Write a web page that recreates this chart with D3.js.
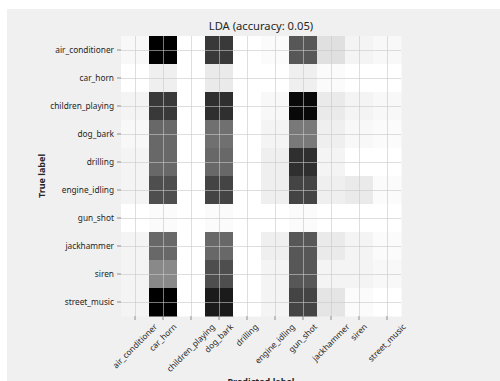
<!DOCTYPE html>
<html>
<head>
<meta charset="utf-8">
<script src="https://cdn.jsdelivr.net/npm/d3@7"></script>
<style>
  body { margin: 0; background: #fff; }
  svg { display: block; }
  .tick text { font-family: "Noto Sans", "Open Sans", sans-serif; fill: #262626; }
</style>
</head>
<body>
<div id="chart"></div>
<script>
// class names (rows = true, columns = predicted)
var labels = ["air_conditioner", "car_horn", "children_playing", "dog_bark", "drilling",
  "engine_idling", "gun_shot", "jackhammer", "siren", "street_music"];

// confusion matrix counts
var counts = [
  [2, 33, 0, 27, 0, 1, 24, 7, 3, 2],
  [0, 4, 0, 5, 0, 0, 4, 1, 0, 0],
  [3, 27, 0, 28, 0, 2, 32, 5, 3, 2],
  [2, 22, 0, 21, 0, 3, 20, 4, 2, 1],
  [3, 22, 0, 22, 0, 4, 28, 3, 0, 0],
  [3, 25, 0, 26, 0, 4, 26, 4, 5, 1],
  [0, 1, 0, 1, 0, 0, 1, 0, 0, 0],
  [3, 22, 0, 22, 0, 4, 24, 5, 3, 1],
  [3, 18, 0, 25, 0, 3, 24, 3, 3, 2],
  [3, 33, 0, 30, 0, 3, 26, 6, 1, 0]
];

var title = "LDA (accuracy: 0.05)";

var width = 500, height = 381;
var plotLeft = 121, plotTop = 36, size = 280;

var svg = d3.select("#chart").append("svg")
    .attr("width", width)
    .attr("height", height);

// figure background
svg.append("rect")
    .attr("x", 7).attr("y", 9)
    .attr("width", width - 7).attr("height", height - 9)
    .attr("fill", "#f0f0f0");

var x = d3.scaleBand().domain(labels).range([plotLeft, plotLeft + size]);
var y = d3.scaleBand().domain(labels).range([plotTop, plotTop + size]);
var color = d3.scaleSequential(d3.interpolateGreys)
    .domain([0, d3.max(counts, function(r){ return d3.max(r); })]);

var cells = [];
counts.forEach(function(row, i){
  row.forEach(function(v, j){
    cells.push({ t: labels[i], p: labels[j], v: v });
  });
});

svg.append("g").selectAll("rect")
    .data(cells)
  .enter().append("rect")
    .attr("x", function(d){ return x(d.p); })
    .attr("y", function(d){ return y(d.t); })
    .attr("width", x.bandwidth() + 0.5)
    .attr("height", y.bandwidth() + 0.5)
    .attr("fill", function(d){ return color(d.v); });

// grid at tick centres
var half = x.bandwidth() / 2;
var grid = svg.append("g")
    .attr("stroke", "#c8c8c8")
    .attr("stroke-opacity", 0.6)
    .attr("stroke-width", 1);
grid.selectAll(".gx").data(labels).enter().append("line")
    .attr("x1", function(d){ return Math.round(x(d) + half) + 0.5; })
    .attr("x2", function(d){ return Math.round(x(d) + half) + 0.5; })
    .attr("y1", plotTop).attr("y2", plotTop + size);
grid.selectAll(".gy").data(labels).enter().append("line")
    .attr("y1", function(d){ return Math.round(y(d) + half) + 0.5; })
    .attr("y2", function(d){ return Math.round(y(d) + half) + 0.5; })
    .attr("x1", plotLeft).attr("x2", plotLeft + size);

// y axis
var yAxis = svg.append("g")
    .attr("transform", "translate(" + plotLeft + ",0)")
    .call(d3.axisLeft(y).tickSize(4).tickPadding(3));
yAxis.select(".domain").remove();
yAxis.selectAll(".tick line").attr("stroke", "#8c8c8c");
yAxis.selectAll(".tick text").style("font-size", "8.3px");

// x axis, labels rotated 45deg and centred on the tick
var xAxis = svg.append("g")
    .attr("transform", "translate(0," + (plotTop + size) + ")")
    .call(d3.axisBottom(x).tickSize(4));
xAxis.select(".domain").remove();
xAxis.selectAll(".tick line").attr("stroke", "#8c8c8c");
xAxis.selectAll(".tick text")
    .style("font-size", "8.3px")
    .attr("text-anchor", "middle")
    .attr("dy", "0.32em")
    .attr("y", 0)
    .attr("transform", function(){
      var L = this.getComputedTextLength();
      var h = 8.3 * 1.2;
      var c = (L + h) * Math.SQRT1_2 / 2;
      return "translate(0," + (6 + c) + ") rotate(-45)";
    });

svg.append("text")
    .attr("x", plotLeft + size / 2)
    .attr("y", 29.5)
    .attr("text-anchor", "middle")
    .style("font-family", "'Noto Sans', 'Open Sans', sans-serif")
    .style("font-size", "11.2px")
    .attr("fill", "#262626")
    .text(title);

svg.append("text")
    .attr("transform", "translate(45," + (plotTop + size / 2) + ") rotate(-90)")
    .attr("text-anchor", "middle")
    .style("font-family", "'Noto Sans', 'Open Sans', sans-serif")
    .style("font-size", "9px")
    .style("font-weight", "bold")
    .attr("fill", "#262626")
    .text("True label");

svg.append("text")
    .attr("x", plotLeft + size / 2)
    .attr("y", 384.5)
    .attr("text-anchor", "middle")
    .style("font-family", "'Noto Sans', 'Open Sans', sans-serif")
    .style("font-size", "9px")
    .style("font-weight", "bold")
    .attr("fill", "#262626")
    .text("Predicted label");
</script>
</body>
</html>
